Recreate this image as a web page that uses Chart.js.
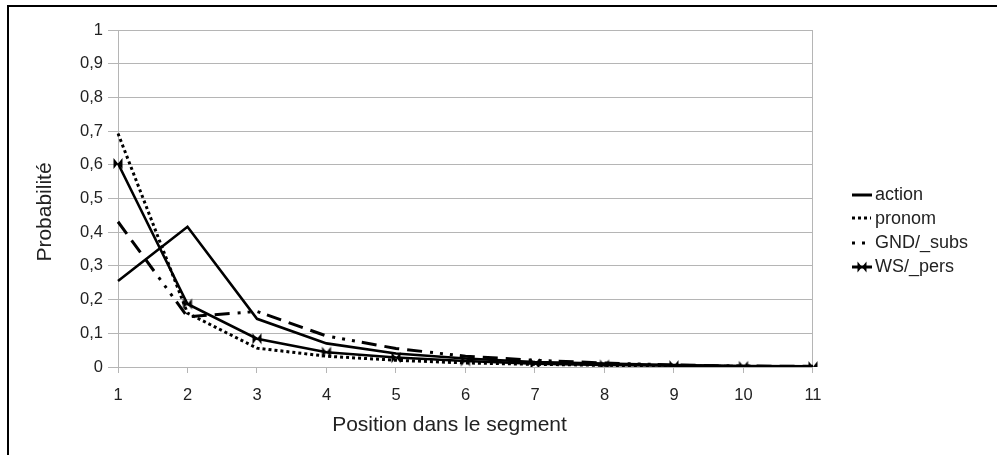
<!DOCTYPE html>
<html>
<head>
<meta charset="utf-8">
<title>Probabilité selon la position dans le segment</title>
<script src="https://cdn.jsdelivr.net/npm/chart.js@4"></script>
<style>
    html, body { margin: 0; padding: 0; background: #fff; }
    #wrap { position: relative; width: 998px; height: 455px; overflow: hidden; }
    #frame {
        position: absolute; left: 7px; top: 5px; width: 990px; height: 470px;
        border-top: 2px solid #000; border-left: 2px solid #000;
        box-sizing: border-box; pointer-events: none;
    }
</style>
</head>
<body>
<div id="wrap">
    <canvas id="lineChart" width="998" height="455"></canvas>
    <div id="frame"></div>
</div>
<script>
// values
const positions = ['1', '2', '3', '4', '5', '6', '7', '8', '9', '10', '11'];
const action = [0.255, 0.416, 0.143, 0.070, 0.040, 0.025, 0.015, 0.010, 0.006, 0.003, 0.002];
const pronom = [0.693, 0.160, 0.056, 0.032, 0.020, 0.012, 0.008, 0.005, 0.003, 0.002, 0.001];
const gndSubs = [0.431, 0.149, 0.165, 0.092, 0.055, 0.032, 0.020, 0.012, 0.006, 0.003, 0.002];
const wsPers = [0.604, 0.187, 0.084, 0.044, 0.028, 0.018, 0.010, 0.006, 0.004, 0.002, 0.001];
const yTickLabels = ['0', '0,1', '0,2', '0,3', '0,4', '0,5', '0,6', '0,7', '0,8', '0,9', '1'];
const seriesNames = ['action', 'pronom', 'GND/_subs', 'WS/_pers'];
const xTitle = 'Position dans le segment';
const yTitle = 'Probabilité';

const fontFamily = '"Liberation Sans", Arial, sans-serif';
const gridGray = '#b5b5b5';
const textColor = '#222';

const pronomDash = [3, 3];
const gndDash = [15, 8, 15, 8, 15, 8, 3, 7, 3, 7, 3, 7];

// bow-tie marker used by WS/_pers
function drawBowtie(g, cx, cy) {
    g.beginPath();
    g.moveTo(cx - 4.5, cy - 5.5);
    g.lineTo(cx + 4.5, cy + 5.5);
    g.lineTo(cx + 4.5, cy - 5.5);
    g.lineTo(cx - 4.5, cy + 5.5);
    g.closePath();
    g.fill();
}

function makeMarker() {
    const c = document.createElement('canvas');
    c.width = 12;
    c.height = 13;
    const g = c.getContext('2d');
    g.fillStyle = '#000';
    drawBowtie(g, 6, 6.5);
    return c;
}

function makeLegendSample(kind) {
    const c = document.createElement('canvas');
    c.width = 20;
    c.height = 12;
    const g = c.getContext('2d');
    g.strokeStyle = '#000';
    g.fillStyle = '#000';
    g.lineWidth = 3;
    g.beginPath();
    if (kind === 'pronom') {
        g.setLineDash(pronomDash);
        g.moveTo(0, 5);
        g.lineTo(19, 5);
    } else if (kind === 'gnd') {
        g.setLineDash([3, 7]);
        g.moveTo(0, 6);
        g.lineTo(14, 6);
    } else {
        g.moveTo(0, 6);
        g.lineTo(20, 6);
    }
    g.stroke();
    if (kind === 'ws') drawBowtie(g, 10, 6);
    return c;
}

const legendSamples = [
    makeLegendSample('action'),
    makeLegendSample('pronom'),
    makeLegendSample('gnd'),
    makeLegendSample('ws')
];

// axis titles are drawn by hand so they sit where the reference has them
const axisTitles = {
    id: 'axisTitles',
    afterDraw(chart) {
        const g = chart.ctx;
        g.save();
        g.fillStyle = textColor;
        g.font = '21px ' + fontFamily;
        g.textAlign = 'center';
        g.textBaseline = 'middle';
        g.fillText(xTitle, 449.5, 425);
        g.translate(45, 212);
        g.rotate(-Math.PI / 2);
        g.fillText(yTitle, 0, 0);
        g.restore();
    }
};

const data = {
    labels: positions,
    datasets: [
        {
            label: seriesNames[0],
            data: action,
            borderColor: '#000',
            borderWidth: 2.6,
            pointRadius: 0
        },
        {
            label: seriesNames[1],
            data: pronom,
            borderColor: '#000',
            borderWidth: 3,
            borderDash: pronomDash,
            pointRadius: 0
        },
        {
            label: seriesNames[2],
            data: gndSubs,
            borderColor: '#000',
            borderWidth: 3,
            borderDash: gndDash,
            pointRadius: 0
        },
        {
            label: seriesNames[3],
            data: wsPers,
            borderColor: '#000',
            borderWidth: 2.6,
            pointStyle: makeMarker(),
            pointRadius: 5
        }
    ]
};

const config = {
    type: 'line',
    data: data,
    plugins: [axisTitles],
    options: {
        responsive: false,
        animation: false,
        layout: { padding: { top: 30, left: 0, right: 20, bottom: 23 } },
        elements: { line: { tension: 0, fill: false, borderCapStyle: 'butt' } },
        plugins: {
            tooltip: { enabled: false },
            legend: {
                position: 'right',
                align: 'center',
                labels: {
                    usePointStyle: true,
                    pointStyleWidth: 8,
                    padding: 6,
                    color: textColor,
                    font: { family: fontFamily, size: 18 },
                    generateLabels: chart => chart.data.datasets.map((ds, i) => ({
                        text: ds.label,
                        pointStyle: legendSamples[i],
                        datasetIndex: i,
                        hidden: false,
                        fontColor: textColor,
                        lineWidth: 0,
                        strokeStyle: 'rgba(0,0,0,0)',
                        fillStyle: 'rgba(0,0,0,0)'
                    }))
                }
            }
        },
        scales: {
            x: {
                type: 'category',
                offset: false,
                grid: {
                    color: ctx => ctx.index === positions.length - 1 ? gridGray : 'rgba(0,0,0,0)',
                    tickColor: gridGray,
                    tickLength: 6
                },
                border: { display: true, color: gridGray },
                ticks: {
                    color: textColor,
                    padding: 13,
                    maxRotation: 0,
                    autoSkip: false,
                    font: { family: fontFamily, size: 16.5 }
                },
                afterFit(scale) { scale.height = 65; }
            },
            y: {
                min: 0,
                max: 1,
                grid: { color: gridGray, tickColor: gridGray, tickLength: 10 },
                border: { display: true, color: gridGray },
                ticks: {
                    stepSize: 0.1,
                    padding: 5,
                    color: textColor,
                    font: { family: fontFamily, size: 16.5 },
                    callback: (value, index) => yTickLabels[index]
                },
                afterFit(scale) { scale.width = 118; }
            },
            // empty axis that keeps the legend away from the plot
            spacer: {
                position: 'right',
                min: 0,
                max: 1,
                grid: { display: false, drawTicks: false },
                border: { display: false },
                ticks: { display: false },
                afterFit(scale) { scale.width = 39; }
            }
        }
    }
};

const canvas = document.getElementById('lineChart');
const lineChart = new Chart(canvas, config);
</script>
</body>
</html>
